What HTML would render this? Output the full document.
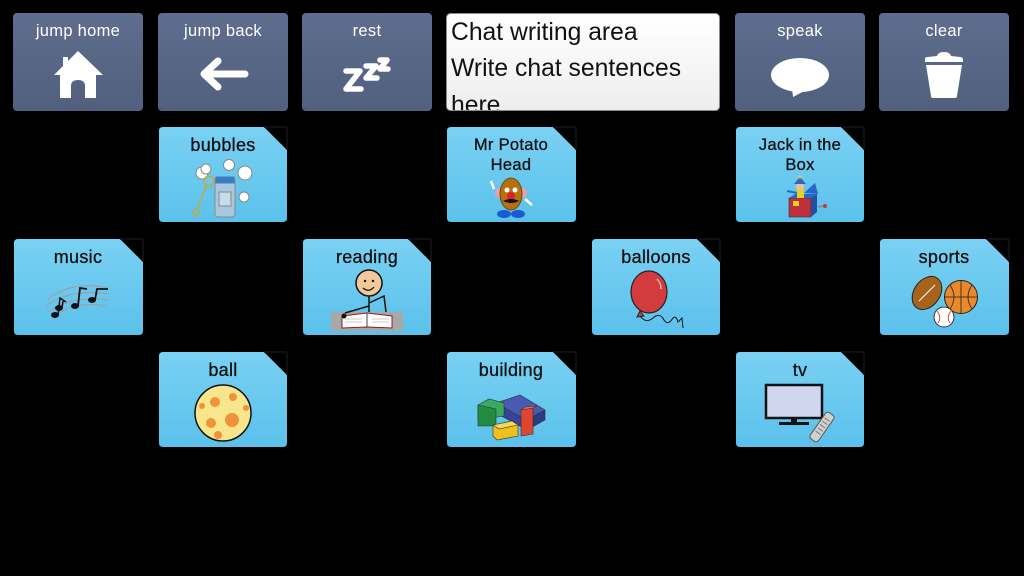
<!DOCTYPE html>
<html><head><meta charset="utf-8"><style>
html,body{margin:0;padding:0;background:#000;}
svg{display:block;}
text{font-family:"Liberation Sans","DejaVu Sans",sans-serif;}
</style></head><body>
<svg width="1024" height="576" viewBox="0 0 1024 576" xmlns="http://www.w3.org/2000/svg">
<defs>
<linearGradient id="btn" x1="0" y1="0" x2="0" y2="1"><stop offset="0" stop-color="#5f6d8e"/><stop offset="1" stop-color="#52607f"/></linearGradient>
<linearGradient id="tile" x1="0" y1="0" x2="0" y2="1"><stop offset="0" stop-color="#7ad1f3"/><stop offset="1" stop-color="#5bc1eb"/></linearGradient>
<linearGradient id="chat" x1="0" y1="0" x2="0" y2="1"><stop offset="0" stop-color="#ffffff"/><stop offset="1" stop-color="#eeeeee"/></linearGradient>
<clipPath id="chatclip"><rect x="447" y="14" width="272" height="96" rx="3"/></clipPath>
</defs>
<rect width="1024" height="576" fill="#000"/>

<!-- top buttons -->
<rect x="13" y="13" width="130" height="98" rx="4" fill="url(#btn)"/>
<rect x="158" y="13" width="130" height="98" rx="4" fill="url(#btn)"/>
<rect x="302" y="13" width="130" height="98" rx="4" fill="url(#btn)"/>
<rect x="735" y="13" width="130" height="98" rx="4" fill="url(#btn)"/>
<rect x="879" y="13" width="130" height="98" rx="4" fill="url(#btn)"/>
<g fill="#fff" font-size="16.5" text-anchor="middle" letter-spacing="0.3">
<text x="78" y="36">jump home</text>
<text x="223" y="36">jump back</text>
<text x="367" y="36">rest</text>
<text x="800" y="36">speak</text>
<text x="944" y="36">clear</text>
</g>
<!-- home icon -->
<path d="M78 51 L103 75 L96 75 L96 98 L85 98 L85 86 Q85 80 78 80 Q71 80 71 86 L71 98 L60 98 L60 75 L54 75 L63 66 L63 57 L68 57 L68 61 Z" fill="#fff"/>
<!-- arrow -->
<g stroke="#fff" stroke-width="7" stroke-linecap="round" stroke-linejoin="round" fill="none">
<path d="M245 74 L205 74 M218 61 L204 74 L218 87"/>
</g>
<!-- zzz -->
<g stroke="#fff" stroke-width="5.5" stroke-linejoin="round" stroke-linecap="round" fill="none">
<path d="M346 71 L360 71 L346 89 L361 89"/>
<path d="M366 66 L376 66 L366 78 L377 78"/>
<path d="M380 60 L387 60 L380 69 L388 69"/>
</g>
<!-- speech bubble -->
<ellipse cx="800" cy="75" rx="29" ry="17" fill="#fff"/>
<path d="M792 88 L808 89 L793 97 Z" fill="#fff"/>
<!-- trash -->
<path d="M925 59 Q925 57 928 57 L937 56 Q938 52 944 52 Q950 52 951 56 L960 57 Q963 57 963 60 L963 62 L925 62 Z" fill="#fff"/>
<path d="M926 65 L962 65 L957 96 Q957 98 955 98 L933 98 Q931 98 931 96 Z" fill="#fff"/>

<!-- chat area -->
<rect x="446.5" y="13.5" width="273" height="97" rx="4" fill="url(#chat)" stroke="#8a8a8a"/>
<g clip-path="url(#chatclip)" font-size="24.7" fill="#111">
<text x="451" y="40">Chat writing area</text>
<text x="451" y="76">Write chat sentences</text>
<text x="451" y="113">here.</text>
</g>

<!-- tiles -->
<g fill="url(#tile)">
<path d="M163 127 H264 L287 150 V218 Q287 222 283 222 H163 Q159 222 159 218 V131 Q159 127 163 127 Z"/>
<path d="M451 127 H553 L576 150 V218 Q576 222 572 222 H451 Q447 222 447 218 V131 Q447 127 451 127 Z"/>
<path d="M740 127 H841 L864 150 V218 Q864 222 860 222 H740 Q736 222 736 218 V131 Q736 127 740 127 Z"/>
<path d="M18 239 H120 L143 262 V331 Q143 335 139 335 H18 Q14 335 14 331 V243 Q14 239 18 239 Z"/>
<path d="M307 239 H408 L431 262 V331 Q431 335 427 335 H307 Q303 335 303 331 V243 Q303 239 307 239 Z"/>
<path d="M596 239 H697 L720 262 V331 Q720 335 716 335 H596 Q592 335 592 331 V243 Q592 239 596 239 Z"/>
<path d="M884 239 H986 L1009 262 V331 Q1009 335 1005 335 H884 Q880 335 880 331 V243 Q880 239 884 239 Z"/>
<path d="M163 352 H264 L287 375 V443 Q287 447 283 447 H163 Q159 447 159 443 V356 Q159 352 163 352 Z"/>
<path d="M451 352 H553 L576 375 V443 Q576 447 572 447 H451 Q447 447 447 443 V356 Q447 352 451 352 Z"/>
<path d="M740 352 H841 L864 375 V443 Q864 447 860 447 H740 Q736 447 736 443 V356 Q736 352 740 352 Z"/>
</g>
<!-- fold shadows -->
<g fill="none" stroke="#161616" stroke-width="1.5">
<path d="M264 127 H285 Q287 127 287 129 V150"/>
<path d="M553 127 H574 Q576 127 576 129 V150"/>
<path d="M841 127 H862 Q864 127 864 129 V150"/>
<path d="M120 239 H141 Q143 239 143 241 V262"/>
<path d="M408 239 H429 Q431 239 431 241 V262"/>
<path d="M697 239 H718 Q720 239 720 241 V262"/>
<path d="M986 239 H1007 Q1009 239 1009 241 V262"/>
<path d="M264 352 H285 Q287 352 287 354 V375"/>
<path d="M553 352 H574 Q576 352 576 354 V375"/>
<path d="M841 352 H862 Q864 352 864 354 V375"/>
</g>

<g fill="#111" font-size="18" text-anchor="middle" stroke="#111" stroke-width="0.3" letter-spacing="0.3">
<text x="223" y="151">bubbles</text>
<text x="511" y="150" font-size="16.5">Mr Potato</text>
<text x="511" y="170" font-size="16.5">Head</text>
<text x="800" y="150" font-size="16.5">Jack in the</text>
<text x="800" y="170" font-size="16.5">Box</text>
<text x="78" y="263">music</text>
<text x="367" y="263">reading</text>
<text x="656" y="263">balloons</text>
<text x="944" y="263">sports</text>
<text x="223" y="376">ball</text>
<text x="511" y="376">building</text>
<text x="800" y="376">tv</text>
</g>

<!-- bubbles icon -->
<g stroke="#888" stroke-width="1">
<circle cx="229" cy="165" r="5.5" fill="#fff"/>
<circle cx="202" cy="173" r="6" fill="#fff"/>
<circle cx="206" cy="169" r="5" fill="#fff"/>
<circle cx="245" cy="173" r="7" fill="#fff"/>
<circle cx="244" cy="197" r="5" fill="#fff"/>
<rect x="215" y="177" width="20" height="40" rx="3" fill="#a9c8e0"/>
<rect x="216" y="177" width="18" height="6" fill="#3a7ec0" stroke="#3a7ec0"/>
<rect x="219" y="192" width="12" height="14" fill="#c8dcec"/>
</g>
<g stroke="#c9a830" stroke-width="1.5" fill="none">
<circle cx="209" cy="181" r="5"/>
<line x1="206" y1="186" x2="197" y2="210"/>
<circle cx="196" cy="213" r="3"/>
</g>

<!-- potato -->
<g>
<ellipse cx="499" cy="193" rx="4" ry="5" fill="#e8a0b0"/>
<ellipse cx="523" cy="193" rx="4" ry="5" fill="#e8a0b0"/>
<path d="M494 189 L491 181 M525 199 L532 205" stroke="#fff" stroke-width="2.5"/>
<ellipse cx="511" cy="194" rx="11" ry="16" fill="#b86f0d" stroke="#5a3a00" stroke-width="0.8"/>
<circle cx="507" cy="190" r="2.5" fill="#fff"/><circle cx="515" cy="190" r="2.5" fill="#fff"/>
<circle cx="511" cy="196" r="4" fill="#e02020"/>
<path d="M503 201 Q511 197 519 201 Q511 205 503 201" fill="#111"/>
<ellipse cx="504" cy="214" rx="7" ry="4" fill="#1c5ad0"/>
<ellipse cx="518" cy="214" rx="7" ry="4" fill="#1c5ad0"/>
</g>

<!-- jack in the box -->
<g>
<rect x="789" y="198" width="22" height="19" fill="#c0303a" stroke="#333" stroke-width="0.6"/>
<path d="M789 198 L795 194 L817 194 L811 198 Z" fill="#2b66c8"/>
<path d="M811 198 L817 194 L817 212 L811 217 Z" fill="#2450a0"/>
<path d="M804 193 L815 183 L818 194 Z" fill="#2b66c8"/>
<rect x="793" y="201" width="6" height="5" fill="#e8d020"/>
<circle cx="800" cy="187" r="4" fill="#f0c090"/>
<path d="M794 184 L800 177 L806 184 Z" fill="#2b66c8"/>
<circle cx="800" cy="177" r="1.5" fill="#e8d020"/>
<rect x="797" y="190" width="7" height="8" fill="#e8d020"/>
<line x1="797" y1="193" x2="787" y2="191" stroke="#2b66c8" stroke-width="2"/>
<line x1="818" y1="207" x2="824" y2="206" stroke="#888" stroke-width="1.5"/>
<circle cx="825" cy="206" r="2" fill="#d03030"/>
</g>

<!-- music -->
<g stroke="#a89a9a" stroke-width="1" fill="none">
<path d="M47 300 Q70 280 108 288"/>
<path d="M46 306 Q70 288 109 294"/>
<path d="M48 312 Q72 295 108 300"/>
<path d="M52 318 Q74 300 106 306"/>
</g>
<g fill="#111" stroke="#111">
<ellipse cx="55" cy="315" rx="3.5" ry="2.5"/>
<ellipse cx="59" cy="308" rx="3.5" ry="2.5"/>
<path d="M58 315 L60 298 L66 302 M62 308 L63 301" stroke-width="1.5" fill="none"/>
<ellipse cx="75" cy="306" rx="3.5" ry="2.5"/>
<path d="M78 306 L80 288 L87 289" stroke-width="1.8" fill="none"/>
<ellipse cx="92" cy="300" rx="3.5" ry="2.5"/>
<path d="M95 300 L97 289 L108 289" stroke-width="1.8" fill="none"/>
</g>

<!-- reading -->
<g>
<rect x="331" y="312" width="72" height="19" fill="#a8a8a8"/>
<path d="M342 316 L367 313 L392 316 L392 328 L367 327 L342 328 Z" fill="#fff" stroke="#8a2020" stroke-width="1"/>
<line x1="367" y1="313" x2="367" y2="327" stroke="#444"/>
<path d="M345 319 H362 M345 322 H362 M372 319 H389 M372 322 H389" stroke="#bbb" stroke-width="0.8"/>
<circle cx="369" cy="283" r="13" fill="#f2c99a" stroke="#111" stroke-width="1.5"/>
<circle cx="365" cy="281" r="1.2" fill="#111"/><circle cx="373" cy="281" r="1.2" fill="#111"/>
<path d="M363 288 Q369 293 374 287" stroke="#111" stroke-width="1.2" fill="none"/>
<path d="M369 296 L369 312 M369 306 L345 313 M369 303 L384 296 L386 312" stroke="#111" stroke-width="1.5" fill="none"/>
<circle cx="344" cy="316" r="2.5" fill="#111"/>
</g>

<!-- balloon -->
<g>
<ellipse cx="649" cy="292" rx="18" ry="21" fill="#d23c3e" stroke="#222" stroke-width="1.2"/>
<path d="M640 311 L637 317 L644 316 Z" fill="#d23c3e" stroke="#222" stroke-width="1"/>
<path d="M640 316 Q646 324 653 318 Q660 312 664 320 Q668 326 673 318 Q676 315 678 322 L682 318 L683 328" stroke="#111" stroke-width="1" fill="none"/>
<path d="M657 279 Q661 283 661 289" stroke="#fff" stroke-width="1.5" fill="none" opacity="0.6"/>
</g>

<!-- sports -->
<g>
<ellipse cx="927" cy="293" rx="13" ry="18" transform="rotate(35 927 293)" fill="#a7621c" stroke="#222" stroke-width="1"/>
<path d="M919 301 L935 285" stroke="#fff" stroke-width="1"/>
<circle cx="961" cy="297" r="16.5" fill="#e98a2a" stroke="#222" stroke-width="1"/>
<path d="M945 297 H977 M961 281 V313 M950 285 Q958 297 950 309 M972 285 Q964 297 972 309" stroke="#222" stroke-width="0.8" fill="none"/>
<circle cx="944" cy="317" r="10" fill="#fff" stroke="#333" stroke-width="1"/>
<path d="M937 311 Q942 317 938 323 M951 311 Q946 317 950 323" stroke="#d03030" stroke-width="0.8" fill="none"/>
</g>

<!-- ball -->
<g>
<circle cx="223" cy="413" r="28" fill="#f8e68d" stroke="#111" stroke-width="1.5"/>
<g fill="#f0923a">
<circle cx="215" cy="402" r="5"/><circle cx="233" cy="397" r="4"/><circle cx="232" cy="420" r="7"/>
<circle cx="211" cy="423" r="5"/><circle cx="218" cy="435" r="4"/><circle cx="202" cy="406" r="3"/><circle cx="246" cy="408" r="3"/>
</g>
</g>

<!-- building -->
<g stroke="#333" stroke-width="0.6">
<path d="M496 403 L520 395 L545 410 L526 420 Z" fill="#4a5ab0"/>
<path d="M526 420 L545 410 L545 420 L527 430 Z" fill="#2c3a80"/>
<path d="M496 403 L526 420 L527 430 L496 413 Z" fill="#34449a"/>
<path d="M478 405 L489 399 L504 403 L504 416 L478 420 Z" fill="#3aaa60"/>
<path d="M478 405 L496 409 L496 426 L478 426 Z" fill="#1f8c40"/>
<path d="M521 410 L533 408 L533 434 L521 436 Z" fill="#e04530"/>
<path d="M521 410 L525 407 L537 406 L533 408 Z" fill="#f06a50"/>
<path d="M493 425 L512 421 L518 425 L518 436 L497 440 L493 436 Z" fill="#f0c020"/>
<path d="M493 425 L512 421 L518 425 L499 429 Z" fill="#f8d850"/>
</g>

<!-- tv -->
<g>
<rect x="766" y="385" width="56" height="33" fill="#d0d6ee" stroke="#111" stroke-width="2.5"/>
<rect x="791" y="418" width="6" height="4" fill="#111"/>
<rect x="779" y="422" width="30" height="3" fill="#111"/>
<g transform="rotate(35 822 427)">
<rect x="817" y="411" width="10" height="32" rx="3" fill="#d0d0d0" stroke="#555" stroke-width="1"/>
<path d="M819 418 H825 M819 422 H825 M819 426 H825 M819 430 H825 M819 434 H825" stroke="#777" stroke-width="1"/>
</g>
</g>
</svg>
</body></html>
